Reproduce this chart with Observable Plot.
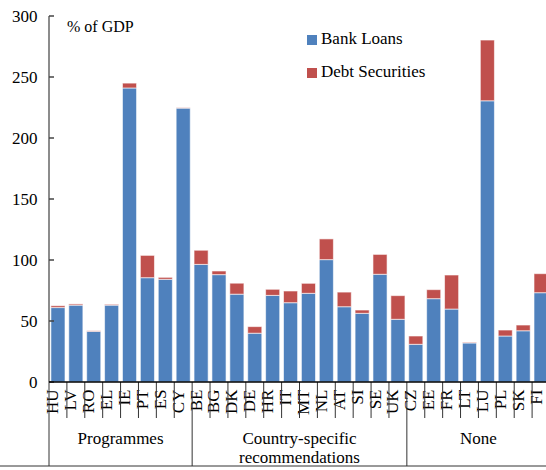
<!DOCTYPE html>
<html><head><meta charset="utf-8">
<script src="https://cdn.jsdelivr.net/npm/d3@7"></script>
<script src="https://cdn.jsdelivr.net/npm/@observablehq/plot@0.6"></script>
<style>html,body{margin:0;padding:0;background:#fff;overflow:hidden;width:546px;height:470px}</style>
</head><body><div id="chart"></div>
<script>
const countries = ["HU","LV","RO","EL","IE","PT","ES","CY","BE","BG","DK","DE","HR","IT","MT","NL","AT","SI","SE","UK","CZ","EE","FR","LT","LU","PL","SK","FI"];
const bankLoans = [61,63,41.5,63,241,85.5,84.2,224.5,96.4,88,72,40,71,65,72.7,100.3,61.7,56.3,88.3,51.4,30.9,68.3,59.8,32,230.5,37.7,42,73.2];
const debtSecurities = [1.5,1,0.5,0.7,4,18.3,1.6,0.3,11.6,3,9,5.4,5,9.6,8.2,17,12,2.7,16.3,19.4,6.8,7.4,27.9,0.5,49.8,4.9,4.7,15.6];
const seriesNames = ["Bank Loans","Debt Securities"];
const seriesColors = ["#4F81BD","#C0504D"];
const groupNames = [["Programmes"],["Country-specific","recommendations"],["None"]];
const groupSizes = [8,12,8];
const yTicks = [0,50,100,150,200,250,300];
const unitLabel = "% of GDP";

const rows = [];
countries.forEach((c,i)=>{
  rows.push({country:c, series:seriesNames[0], value:bankLoans[i]});
  rows.push({country:c, series:seriesNames[1], value:debtSecurities[i]});
});

const font = "'Liberation Serif','Times New Roman',serif";
const plot = Plot.plot({
  width: 551, height: 470,
  marginLeft: 49, marginRight: 1, marginTop: 16, marginBottom: 88,
  style: {fontFamily: font, fontSize: "17px", color: "black", background: "white", overflow: "visible", maxWidth: "none"},
  x: {domain: countries, axis: null, padding: 0, round: false},
  y: {domain: [0,300], ticks: yTicks, tickSize: 0, tickPadding: 12, label: null, tickFormat: d=>String(d)},
  color: {domain: seriesNames, range: seriesColors},
  marks: [
    Plot.barY(rows, {x:"country", y:"value", fill:"series", order: seriesNames, insetLeft: 1.9, insetRight: 1.9, stroke:"white", strokeOpacity:0.6, strokeWidth:1}),
    Plot.text(countries, {x: d=>d, frameAnchor:"bottom", dy: 7, rotate: -90, textAnchor: "end", text: d=>d, fill:"black"})
  ]
});
document.getElementById("chart").appendChild(plot);

const xs = plot.scale("x"), ys = plot.scale("y");
const step = xs.apply(countries[1]) - xs.apply(countries[0]);
const left = i => xs.apply(countries[0]) + i*step;
const svg = d3.select(plot);
const g = svg.append("g").style("font-family", font).attr("text-anchor","start");
const y0 = ys.apply(0), yTop = ys.apply(300);
const x0 = left(0);
// y axis line and inward ticks
g.append("line").attr("x1",x0).attr("x2",x0).attr("y1",yTop).attr("y2",y0).attr("stroke","#666").attr("stroke-width",1.5);
yTicks.forEach(t=>{
  g.append("line").attr("x1",x0).attr("x2",x0+5).attr("y1",ys.apply(t)).attr("y2",ys.apply(t)).attr("stroke","#444").attr("stroke-width",1.5);
});
// category separators
const boundaries = [0];
groupSizes.reduce((a,n)=>{boundaries.push(a+n); return a+n;},0);
for (let i=0;i<=countries.length;i++){
  const isGroup = boundaries.includes(i);
  g.append("line").attr("x1",left(i)).attr("x2",left(i)).attr("y1",y0).attr("y2", isGroup ? y0+84 : y0+36)
   .attr("stroke","#333").attr("stroke-width",1);
}
g.append("line").attr("x1",0).attr("x2",551).attr("y1",y0+84).attr("y2",y0+84).attr("stroke","#333").attr("stroke-width",1);
g.append("line").attr("x1",x0).attr("x2",551).attr("y1",y0).attr("y2",y0).attr("stroke","black").attr("stroke-width",1.5);
// group labels
groupNames.forEach((lines,k)=>{
  const cx = (left(boundaries[k]) + left(boundaries[k+1]))/2;
  lines.forEach((s,j)=>{
    g.append("text").attr("x",cx).attr("y",y0+58+j*19).style("text-anchor","middle").attr("dominant-baseline","middle")
     .style("font-family",font).style("font-size","17px").text(s);
  });
});
// unit label
g.append("text").attr("x",67).attr("y",28).style("text-anchor","start").attr("dominant-baseline","middle").style("font-family",font).style("font-size","16px").text(unitLabel);
// legend
seriesNames.forEach((s,k)=>{
  const ly = 40 + k*33;
  g.append("rect").attr("x",307).attr("y",ly-5).attr("width",10).attr("height",10).attr("fill",seriesColors[k]);
  g.append("text").attr("x",321).attr("y",ly).style("text-anchor","start").attr("dominant-baseline","middle").style("font-family",font).style("font-size","17px").text(s);
});
</script></body></html>
